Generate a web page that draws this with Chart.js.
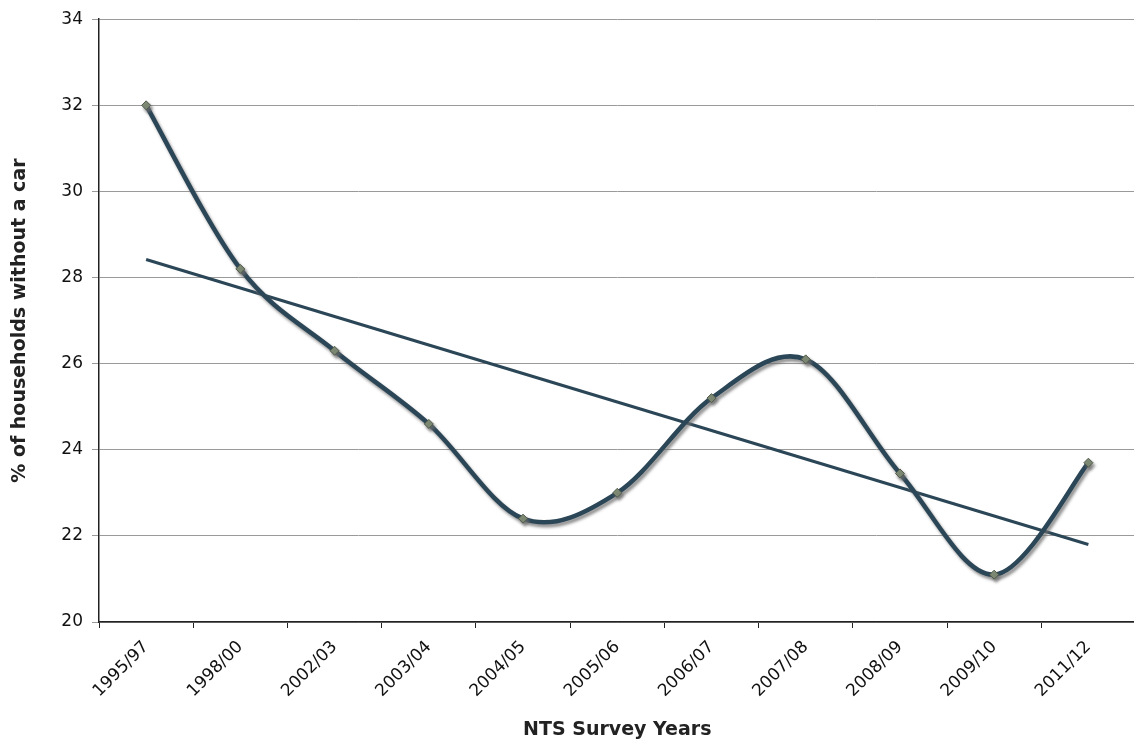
<!DOCTYPE html>
<html>
<head>
<meta charset="utf-8">
<script src="https://cdn.jsdelivr.net/npm/chart.js@4/dist/chart.umd.min.js"></script>
<style>
html,body{margin:0;padding:0;background:#fff;overflow:hidden;}
#wrap{width:1134px;height:742px;overflow:hidden;}
canvas{display:block;}
</style>
</head>
<body>
<div id="wrap"><canvas id="c" width="1141" height="742"></canvas></div>
<script>
const categories = ["1995/97","1998/00","2002/03","2003/04","2004/05","2005/06","2006/07","2007/08","2008/09","2009/10","2011/12"];
const householdsWithoutCar = [32.0, 28.2, 26.3, 24.6, 22.4, 23.0, 25.2, 26.1, 23.45, 21.1, 23.7];
const trendEnds = [28.42, null, null, null, null, null, null, null, null, null, 21.8];
const yTicks = [20, 22, 24, 26, 28, 30, 32, 34];
const xTitle = "NTS Survey Years";
const yTitle = "% of households without a car";

const FONT = "'DejaVu Sans', Verdana, sans-serif";
const LINE = '#2b4657';

// Excel-style smoothing (uniform Catmull-Rom) + drop shadow for the data line
const smoothPlugin = {
  id: 'smoothShadow',
  beforeDatasetDraw(chart, args) {
    const ctx = chart.ctx;
    ctx.save();
    if (args.index === 0) {
      const meta = args.meta;
      const line = meta.dataset;
      if (line && line.updateControlPoints) line.updateControlPoints(chart.chartArea, 'x');
      const pts = meta.data;
      const n = pts.length;
      for (let i = 0; i < n; i++) {
        const p = pts[i];
        const prev = pts[Math.max(i - 1, 0)];
        const next = pts[Math.min(i + 1, n - 1)];
        const dx = (next.x - prev.x) / 6;
        const dy = (next.y - prev.y) / 6;
        p.cp1x = p.x - dx; p.cp1y = p.y - dy;
        p.cp2x = p.x + dx; p.cp2y = p.y + dy;
      }
      if (line) line._path = undefined;
      ctx.shadowColor = 'rgba(110,110,110,0.75)';
      ctx.shadowBlur = 3;
      ctx.shadowOffsetX = 2;
      ctx.shadowOffsetY = 3;
    }
  },
  afterDatasetDraw(chart) { chart.ctx.restore(); }
};

new Chart(document.getElementById('c'), {
  type: 'line',
  data: {
    labels: categories,
    datasets: [
      {
        data: householdsWithoutCar,
        borderColor: LINE,
        borderWidth: 4.5,
        tension: 0.4,
        pointStyle: 'rectRot',
        pointRadius: 4.5,
        pointBackgroundColor: '#7f8c74',
        pointBorderColor: '#50594a',
        pointBorderWidth: 1,
        order: 1
      },
      {
        data: trendEnds,
        borderColor: LINE,
        borderWidth: 3,
        spanGaps: true,
        pointRadius: 0,
        tension: 0,
        order: 2
      }
    ]
  },
  options: {
    responsive: false,
    animation: false,
    events: [],
    layout: { padding: { top: 18, right: 0, left: 0, bottom: 0 } },
    plugins: { legend: { display: false }, tooltip: { enabled: false } },
    scales: {
      x: {
        type: 'category',
        offset: true,
        afterFit(s) { s.height = 742 - 622; },
        grid: { offset: true, drawOnChartArea: false, drawTicks: true, tickLength: 6, color: '#222', lineWidth: 1 },
        border: { display: true, color: '#222', width: 1.5 },
        ticks: { maxRotation: 45, minRotation: 45, autoSkip: false, color: '#111', font: { family: FONT, size: 17 }, padding: 9 },
        title: { display: true, text: xTitle, color: '#222', font: { family: FONT, size: 19, weight: 'bold' }, padding: { top: 0, bottom: 1 } }
      },
      y: {
        min: 20, max: 34,
        afterBuildTicks(s) { s.ticks = yTicks.map(v => ({ value: v })); },
        afterFit(s) { s.width = 99; },
        grid: { color: '#9a9a9a', lineWidth: 1, tickLength: 7, drawTicks: true },
        border: { display: true, color: '#222', width: 1.5 },
        ticks: { color: '#111', font: { family: FONT, size: 17 }, padding: 9 },
        title: { display: true, text: yTitle, color: '#222', font: { family: FONT, size: 19, weight: 'bold' }, padding: { top: 9, bottom: 0 } }
      }
    }
  },
  plugins: [smoothPlugin]
});
</script>
</body>
</html>
